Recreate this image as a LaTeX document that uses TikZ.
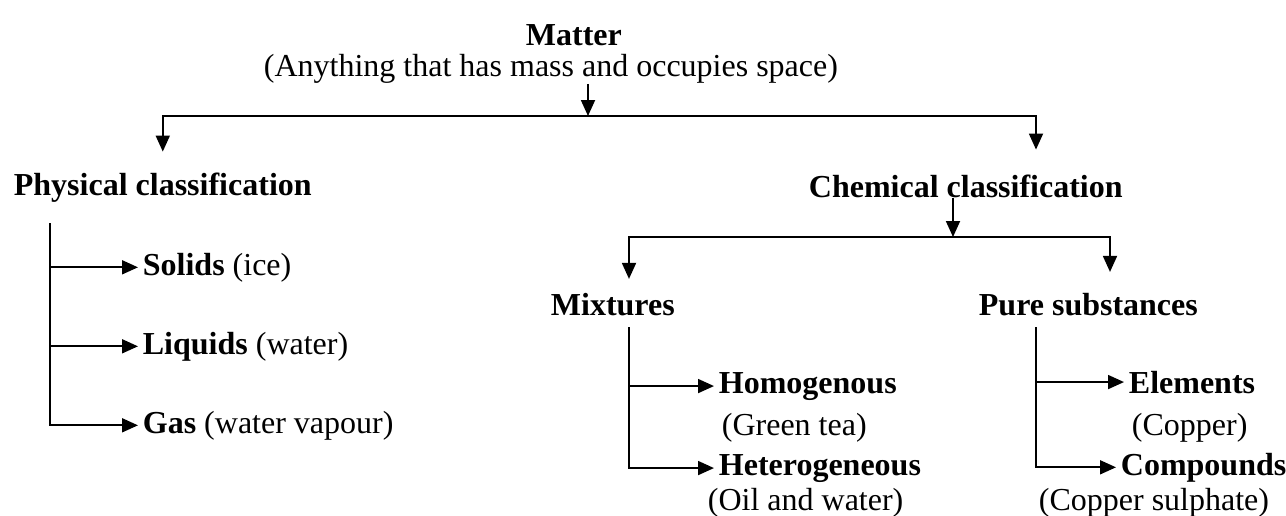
\documentclass[tikz,border=0pt]{standalone}
\usepackage{fontspec}
\setmainfont{Liberation Serif}
\usetikzlibrary{arrows.meta}

\begin{document}
\begin{tikzpicture}[x=0.5pt, y=-0.5pt, font=\fontsize{16}{19}\selectfont,
    >={Triangle[length=8pt, width=7pt]}, line width=0.9pt,
    head/.style={inner sep=0pt, anchor=base west, font=\fontsize{16}{19}\selectfont\bfseries},
    item/.style={inner xsep=2pt, inner ysep=0pt, anchor=base west}]
    \useasboundingbox (0,0) rectangle (1286,515);

    \node[head] (matter) at (525,45) {Matter};
    \node[item, inner xsep=0pt] (desc) at (263,76) {(Anything that has mass and occupies space)};
    \node[head] (phys) at (13,195) {Physical classification};
    \node[head] (chem) at (808,197) {Chemical classification};

    \node[item] (solids) at (138,275) {\textbf{Solids} (ice)};
    \node[item] (liquids) at (138,354) {\textbf{Liquids} (water)};
    \node[item] (gas) at (138,433) {\textbf{Gas} (water vapour)};

    \node[head] (mix) at (550,315) {Mixtures};
    \node[head] (pure) at (978,315) {Pure substances};
    \node[item] (homo) at (714,393) {\textbf{Homogenous}};
    \node[item] (green) at (717,435) {(Green tea)};
    \node[item] (hetero) at (714,475) {\textbf{Heterogeneous}};
    \node[item] (oil) at (703,510) {(Oil and water)};
    \node[item] (elem) at (1124,393) {\textbf{Elements}};
    \node[item] (copper) at (1127,435) {(Copper)};
    \node[item] (comp) at (1116,475) {\textbf{Compounds}};
    \node[item] (cusul) at (1034,510) {(Copper sulphate)};

    % junctions and stems
    \coordinate (mj) at (588,116);
    \coordinate (mjr) at (1036,116);
    \coordinate (cj) at (953,237);
    \coordinate (cjl) at (629,237);
    \coordinate (cjr) at (1110,237);
    \coordinate (pstem) at (50,223);
    \coordinate (mstem) at (629,327);
    \coordinate (sstem) at (1036,327);

    \draw[->] (desc.south -| mj) -- (mj);
    \draw[->, shorten >=10pt] (mj) -| (phys.north);
    \draw[->, shorten >=12pt] (mj) -- (mjr) -- (mjr |- chem.north);

    \draw[->] (chem.south -| cj) -- (cj);
    \draw[->, shorten >=6.5pt] (cj) -- (cjl) -- (cjl |- mix.north);
    \draw[->, shorten >=10pt] (cj) -- (cjr) -- (cjr |- pure.north);

    \draw[->] (pstem) |- (gas.west);
    \draw[->] (pstem |- solids.west) -- (solids.west);
    \draw[->] (pstem |- liquids.west) -- (liquids.west);

    \draw[->] (mstem) |- (hetero.west);
    \draw[->] (mstem |- homo.west) -- (homo.west);

    \draw[->] (sstem) |- (comp.west);
    \draw[->] (sstem |- elem.west) -- (elem.west);
\end{tikzpicture}
\end{document}
